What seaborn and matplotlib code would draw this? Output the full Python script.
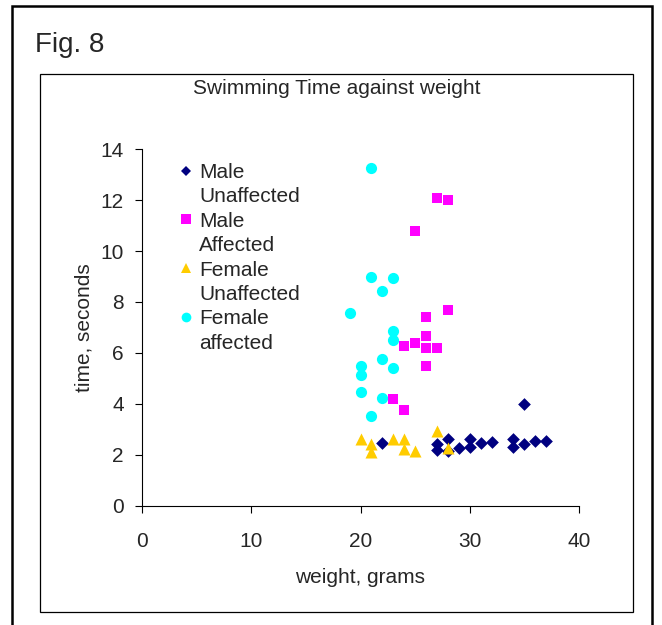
import matplotlib
matplotlib.use("Agg")
import matplotlib.pyplot as plt
import seaborn as sns
import pandas as pd
from matplotlib.lines import Line2D
from matplotlib.patches import Rectangle

# ---- data ----
male_unaff_w = [22, 27, 27, 28, 28, 29, 30, 30, 31, 32, 34, 34, 35, 35, 36, 37]
male_unaff_t = [2.45, 2.4, 2.2, 2.6, 2.15, 2.25, 2.6, 2.3, 2.45, 2.5, 2.6, 2.3, 2.4, 3.98, 2.55, 2.55]

male_aff_w = [27, 28, 25, 28, 26, 26, 25, 24, 26, 27, 26, 23, 24]
male_aff_t = [12.07, 12.02, 10.77, 7.69, 7.4, 6.67, 6.39, 6.27, 6.2, 6.2, 5.48, 4.17, 3.77]

fem_unaff_w = [20, 21, 21, 23, 24, 24, 25, 27, 28]
fem_unaff_t = [2.62, 2.42, 2.12, 2.62, 2.62, 2.23, 2.14, 2.91, 2.25]

fem_aff_w = [21, 21, 23, 22, 19, 23, 23, 22, 23, 20, 20, 20, 22, 21]
fem_aff_t = [13.27, 9.0, 8.94, 8.42, 7.57, 6.84, 6.49, 5.75, 5.41, 5.48, 5.12, 4.45, 4.22, 3.53]

groups = ["Male Unaffected", "Male Affected", "Female Unaffected", "Female affected"]
legend_lines = [("Male", "Unaffected"), ("Male", "Affected"),
                ("Female", "Unaffected"), ("Female", "affected")]
x_ticks = [0, 10, 20, 30, 40]
y_ticks = [0, 2, 4, 6, 8, 10, 12, 14]

colors = {"Male Unaffected": "#000080", "Male Affected": "#FF00FF",
          "Female Unaffected": "#FFCC00", "Female affected": "#00FFFF"}
markers = {"Male Unaffected": "D", "Male Affected": "s",
           "Female Unaffected": "^", "Female affected": "o"}
sizes = {"Male Unaffected": 42, "Male Affected": 60,
         "Female Unaffected": 75, "Female affected": 65}

frames = []
for g, w, t in zip(groups,
                   [male_unaff_w, male_aff_w, fem_unaff_w, fem_aff_w],
                   [male_unaff_t, male_aff_t, fem_unaff_t, fem_aff_t]):
    frames.append(pd.DataFrame({"weight": w, "time": t, "group": g}))
df = pd.concat(frames, ignore_index=True)

sns.set_style("white")
plt.rcParams['font.family'] = ['Liberation Sans', 'DejaVu Sans']

FS = 15
W, H = 662, 625
fig = plt.figure(figsize=(W / 100, H / 100), dpi=100)

def fx(px):
    return px / W

def fy(py):
    return 1 - py / H

ax = fig.add_axes([fx(142), fy(505.5), fx(579) - fx(142), fy(149.3) - fy(505.5)])

for g in groups:
    sub = df[df["group"] == g]
    sns.scatterplot(data=sub, x="weight", y="time", ax=ax, color=colors[g],
                    marker=markers[g], s=sizes[g], linewidth=0, legend=False,
                    zorder=3, clip_on=False)

ax.set_xlim(0, 40)
ax.set_ylim(0, 14)
ax.set_xticks(x_ticks)
ax.set_yticks(y_ticks)
ax.set_xticklabels([str(v) for v in x_ticks], fontsize=FS)
ax.set_yticklabels([str(v) for v in y_ticks], fontsize=FS)
ax.tick_params(axis="both", direction="out", length=5, width=0.8, color="black",
               bottom=True, left=True)
ax.tick_params(axis="x", pad=14)
ax.tick_params(axis="y", pad=8)
for s in ["top", "right"]:
    ax.spines[s].set_visible(False)
for s in ["left", "bottom"]:
    ax.spines[s].set_color("black")
    ax.spines[s].set_linewidth(0.8)
ax.set_xlabel("weight, grams", fontsize=FS, labelpad=12)
ax.set_ylabel("time, seconds", fontsize=FS, labelpad=5)

# legend
handles, labels = [], []
for g, (l1, l2) in zip(groups, legend_lines):
    handles.append(Line2D([], [], linestyle="none", marker=markers[g],
                          color=colors[g], markersize=7 if markers[g] != "D" else 5.5,
                          markeredgewidth=0))
    labels.append(l1)
    handles.append(Line2D([], [], linestyle="none", marker=""))
    labels.append(l2)
ax.legend(handles, labels, loc="upper left", bbox_to_anchor=(0.088, 0.962),
          frameon=False, fontsize=FS, handlelength=0.5, handletextpad=0.4,
          labelspacing=0.26, borderaxespad=0, borderpad=0)

# frames and titles
fig.patches.append(Rectangle((fx(40), fy(612)), fx(633) - fx(40), fy(74) - fy(612),
                             transform=fig.transFigure, fill=False,
                             edgecolor="black", linewidth=0.9))
fig.patches.append(Rectangle((fx(12), fy(640)), fx(652) - fx(12), fy(6) - fy(640),
                             transform=fig.transFigure, fill=False,
                             edgecolor="black", linewidth=1.8))
fig.text(fx(35), fy(45), "Fig. 8", fontsize=20, ha="left", va="center")
fig.text(fx(337), fy(89), "Swimming Time against weight", fontsize=FS,
         ha="center", va="center")

fig.savefig("out.png", dpi=100)
